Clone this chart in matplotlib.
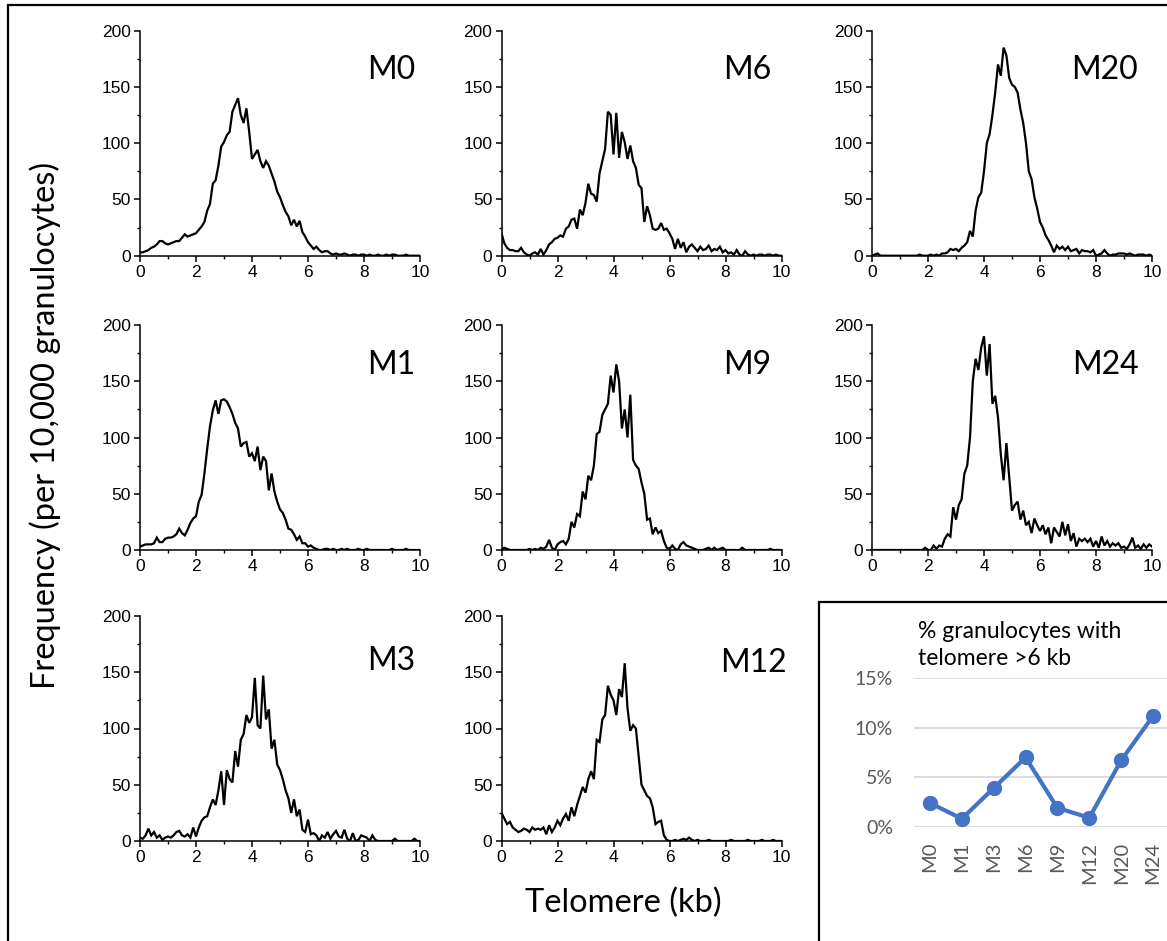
import numpy as np
import matplotlib
matplotlib.use("Agg")
import matplotlib.pyplot as plt
from matplotlib.patches import Rectangle
from matplotlib.ticker import MultipleLocator

# ---------------- data ----------------
telomere_kb = np.linspace(0, 10, 101)

freq_M0 = [3, 3, 4, 5, 7, 8, 10, 13, 13, 11,
           10, 11, 12, 13, 13, 16, 19, 17, 18, 19,
           20, 23, 26, 30, 40, 46, 64, 67, 80, 97,
           101, 107, 110, 128, 134, 140, 125, 118, 131, 110,
           86, 90, 94, 84, 78, 84, 80, 73, 66, 57,
           52, 45, 39, 35, 27, 32, 26, 31, 21, 17,
           12, 9, 6, 8, 5, 3, 4, 4, 2, 1,
           2, 1, 1, 2, 1, 0, 1, 1, 0, 1,
           1, 0, 1, 0, 0, 1, 0, 0, 1, 0,
           1, 1, 0, 0, 0, 1, 0, 0, 0, 0, 0]

freq_M1 = [3, 4, 5, 5, 5, 6, 11, 7, 7, 10,
           11, 11, 12, 14, 19, 15, 13, 18, 24, 28,
           30, 43, 49, 68, 90, 110, 124, 133, 121, 133,
           134, 132, 127, 121, 113, 108, 92, 95, 96, 83,
           86, 79, 92, 71, 83, 79, 53, 68, 52, 43,
           36, 33, 27, 19, 18, 14, 9, 12, 6, 6,
           3, 4, 2, 1, 0, 0, 1, 1, 0, 1,
           0, 0, 1, 0, 1, 0, 0, 0, 1, 0,
           0, 1, 0, 0, 0, 0, 0, 0, 0, 0,
           1, 0, 0, 0, 0, 1, 0, 0, 0, 0, 0]

freq_M3 = [3, 2, 5, 11, 5, 8, 3, 5, 1, 3,
           4, 3, 5, 8, 9, 5, 4, 6, 3, 12,
           4, 12, 18, 21, 22, 30, 37, 32, 45, 62,
           32, 63, 55, 52, 80, 66, 90, 95, 112, 105,
           110, 145, 103, 100, 147, 108, 117, 82, 90, 68,
           63, 55, 45, 38, 25, 37, 22, 28, 10, 8,
           19, 6, 7, 5, 0, 5, 3, 8, 2, 6,
           9, 4, 3, 10, 2, 0, 7, 0, 1, 5,
           4, 3, 0, 5, 1, 0, 0, 0, 0, 0,
           0, 2, 0, 0, 0, 0, 0, 0, 2, 0, 0]

freq_M6 = [20, 11, 7, 5, 5, 4, 4, 7, 3, 1,
           0, 2, 3, 1, 6, 1, 5, 10, 12, 15,
           16, 18, 17, 24, 26, 32, 33, 24, 41, 36,
           47, 64, 55, 54, 48, 73, 84, 95, 128, 125,
           90, 127, 87, 110, 101, 86, 98, 84, 78, 63,
           60, 30, 44, 36, 24, 23, 24, 29, 23, 24,
           20, 15, 6, 15, 7, 12, 3, 8, 10, 7,
           4, 8, 5, 6, 9, 4, 6, 5, 8, 3,
           5, 2, 3, 1, 5, 1, 0, 4, 1, 0,
           1, 0, 1, 1, 0, 1, 1, 0, 1, 0, 0]

freq_M9 = [0, 2, 1, 0, 0, 0, 0, 0, 0, 0,
           1, 0, 1, 0, 2, 1, 3, 9, 2, 0,
           5, 7, 8, 5, 10, 25, 20, 32, 30, 52,
           45, 66, 62, 75, 103, 105, 120, 125, 130, 155,
           140, 165, 150, 108, 125, 100, 138, 80, 75, 72,
           60, 50, 27, 28, 14, 20, 15, 17, 8, 2,
           1, 4, 1, 0, 5, 7, 4, 3, 2, 1,
           0, 0, 0, 1, 2, 0, 2, 0, 1, 2,
           0, 0, 0, 0, 0, 0, 2, 0, 0, 0,
           0, 0, 0, 0, 0, 0, 1, 0, 0, 0, 0]

freq_M12 = [25, 20, 15, 17, 12, 10, 8, 9, 11, 10,
            8, 12, 10, 11, 10, 12, 6, 14, 8, 12,
            18, 14, 20, 24, 18, 30, 22, 32, 40, 48,
            43, 55, 62, 55, 90, 88, 108, 112, 138, 130,
            125, 112, 135, 128, 158, 118, 98, 103, 100, 75,
            50, 45, 40, 38, 30, 15, 17, 18, 5, 1,
            0, 0, 1, 0, 1, 2, 1, 3, 1, 0,
            1, 0, 0, 0, 1, 0, 0, 0, 0, 0,
            0, 0, 1, 0, 0, 0, 0, 0, 1, 0,
            0, 0, 0, 1, 0, 0, 0, 1, 0, 0, 0]

freq_M20 = [0, 1, 2, 0, 0, 0, 0, 0, 0, 0,
            0, 0, 0, 0, 0, 0, 0, 1, 0, 0,
            0, 1, 0, 1, 0, 2, 2, 3, 6, 5,
            6, 4, 7, 9, 12, 22, 17, 40, 52, 56,
            75, 100, 108, 125, 145, 170, 160, 185, 178, 158,
            152, 150, 145, 130, 118, 100, 75, 68, 52, 42,
            30, 25, 18, 14, 9, 3, 9, 6, 8, 5,
            8, 4, 5, 6, 2, 5, 4, 4, 3, 5,
            0, 1, 2, 5, 2, 0, 1, 1, 2, 2,
            2, 1, 2, 1, 0, 1, 1, 1, 0, 1, 0]

freq_M24 = [0, 0, 0, 0, 0, 0, 0, 0, 0, 0,
            0, 0, 0, 0, 0, 0, 0, 0, 0, 2,
            0, 0, 4, 1, 4, 3, 10, 14, 12, 38,
            27, 40, 45, 68, 75, 100, 150, 170, 160, 180,
            190, 155, 183, 130, 137, 118, 85, 62, 95, 65,
            35, 40, 43, 27, 35, 22, 25, 15, 28, 22,
            17, 22, 14, 20, 6, 20, 16, 12, 25, 13,
            23, 8, 15, 3, 10, 8, 10, 7, 10, 3,
            8, 2, 12, 4, 8, 3, 6, 4, 6, 2,
            3, 1, 5, 11, 2, 4, 1, 5, 2, 5, 3]

months = ["M0", "M1", "M3", "M6", "M9", "M12", "M20", "M24"]
pct_over_6kb = [2.4, 0.8, 3.9, 7.0, 1.9, 0.9, 6.7, 11.2]

# ---------------- layout ----------------
W, H = 1167, 941
fig = plt.figure(figsize=(W / 100, H / 100), dpi=100)
fig.patch.set_facecolor("white")

tick_font = "Liberation Sans"
label_font = ["Lato", "DejaVu Sans"]

col_left = [140, 501.5, 872]
row_top = [30.7, 325, 616]
ax_w, ax_h = 280, 225

# (series, label, col, row, label x in axes frac, label y in axes frac)
panels = [
    (freq_M0, "M0", 0, 0, 0.982, 0.825),
    (freq_M6, "M6", 1, 0, 0.964, 0.825),
    (freq_M20, "M20", 2, 0, 0.951, 0.825),
    (freq_M1, "M1", 0, 1, 0.982, 0.822),
    (freq_M9, "M9", 1, 1, 0.964, 0.822),
    (freq_M24, "M24", 2, 1, 0.951, 0.822),
    (freq_M3, "M3", 0, 2, 0.982, 0.80),
    (freq_M12, "M12", 1, 2, 1.02, 0.79),
]

for series, lab, c, r, lx, ly in panels:
    left = col_left[c] / W
    bottom = 1 - (row_top[r] + ax_h) / H
    ax = fig.add_axes([left, bottom, ax_w / W, ax_h / H])
    ax.plot(telomere_kb, series, color="black", lw=1.6, solid_joinstyle="miter")
    ax.set_xlim(0, 10)
    ax.set_ylim(0, 200)
    ax.xaxis.set_major_locator(MultipleLocator(2))
    ax.xaxis.set_minor_locator(MultipleLocator(1))
    ax.yaxis.set_major_locator(MultipleLocator(50))
    ax.yaxis.set_minor_locator(MultipleLocator(25))
    for s in ["top", "right"]:
        ax.spines[s].set_visible(False)
    for s in ["left", "bottom"]:
        ax.spines[s].set_linewidth(1.1)
    ax.tick_params(which="major", direction="out", length=4, width=1.1,
                   labelsize=12.5, pad=2.5)
    ax.tick_params(which="minor", direction="out", length=2.5, width=1.0)
    for t in ax.get_xticklabels() + ax.get_yticklabels():
        t.set_fontfamily(tick_font)
    ax.text(lx, ly, lab, transform=ax.transAxes, ha="right", va="center",
            fontsize=23, family=label_font, clip_on=False)

# axis titles
fig.text(45 / W, 1 - 425 / H, "Frequency (per 10,000 granulocytes)",
         rotation=90, ha="center", va="center", fontsize=23.5, family=label_font)
fig.text(623 / W, 1 - 903 / H, "Telomere (kb)", ha="center", va="center",
         fontsize=23.5, family=label_font)

# outer frame and inset frame
fig.patches.append(Rectangle((8 / W, -0.02), 1.2, 1 - 5 / H + 0.02,
                             transform=fig.transFigure, fill=False,
                             edgecolor="black", lw=1.6, zorder=0))
fig.patches.append(Rectangle((819 / W, -0.02), 1.2, (H - 602) / H + 0.02,
                             transform=fig.transFigure, fill=False,
                             edgecolor="black", lw=1.6, zorder=0))

# inset line chart
ix0, ix1 = 914, 1169
iy_top, iy_bot = 678.3, 826.7
iax = fig.add_axes([ix0 / W, 1 - iy_bot / H, (ix1 - ix0) / W, (iy_bot - iy_top) / H])
xpos = np.arange(len(months))
iax.plot(xpos, pct_over_6kb, color="#4472C4", lw=3, marker="o", markersize=10,
         clip_on=False, zorder=3)
iax.set_xlim(-0.5, len(months) - 0.5)
iax.set_ylim(0, 15)
iax.set_yticks([0, 5, 10, 15])
iax.set_yticklabels(["0%", "5%", "10%", "15%"])
iax.set_xticks(xpos)
iax.set_xticklabels(months, rotation=90)
iax.grid(axis="y", color="#d9d9d9", lw=1.3)
iax.set_axisbelow(True)
for s in iax.spines.values():
    s.set_visible(False)
iax.tick_params(axis="y", length=0, labelsize=14, labelcolor="#595959", pad=15)
iax.tick_params(axis="x", length=0, labelsize=14.5, labelcolor="#595959", pad=11)
for t in iax.get_xticklabels() + iax.get_yticklabels():
    t.set_fontfamily(label_font)
fig.text(918 / W, 1 - 645 / H, "% granulocytes with\ntelomere >6 kb",
         ha="left", va="center", fontsize=16.5, family=label_font,
         linespacing=1.4)

fig.savefig("out.png", dpi=100, facecolor="white")
